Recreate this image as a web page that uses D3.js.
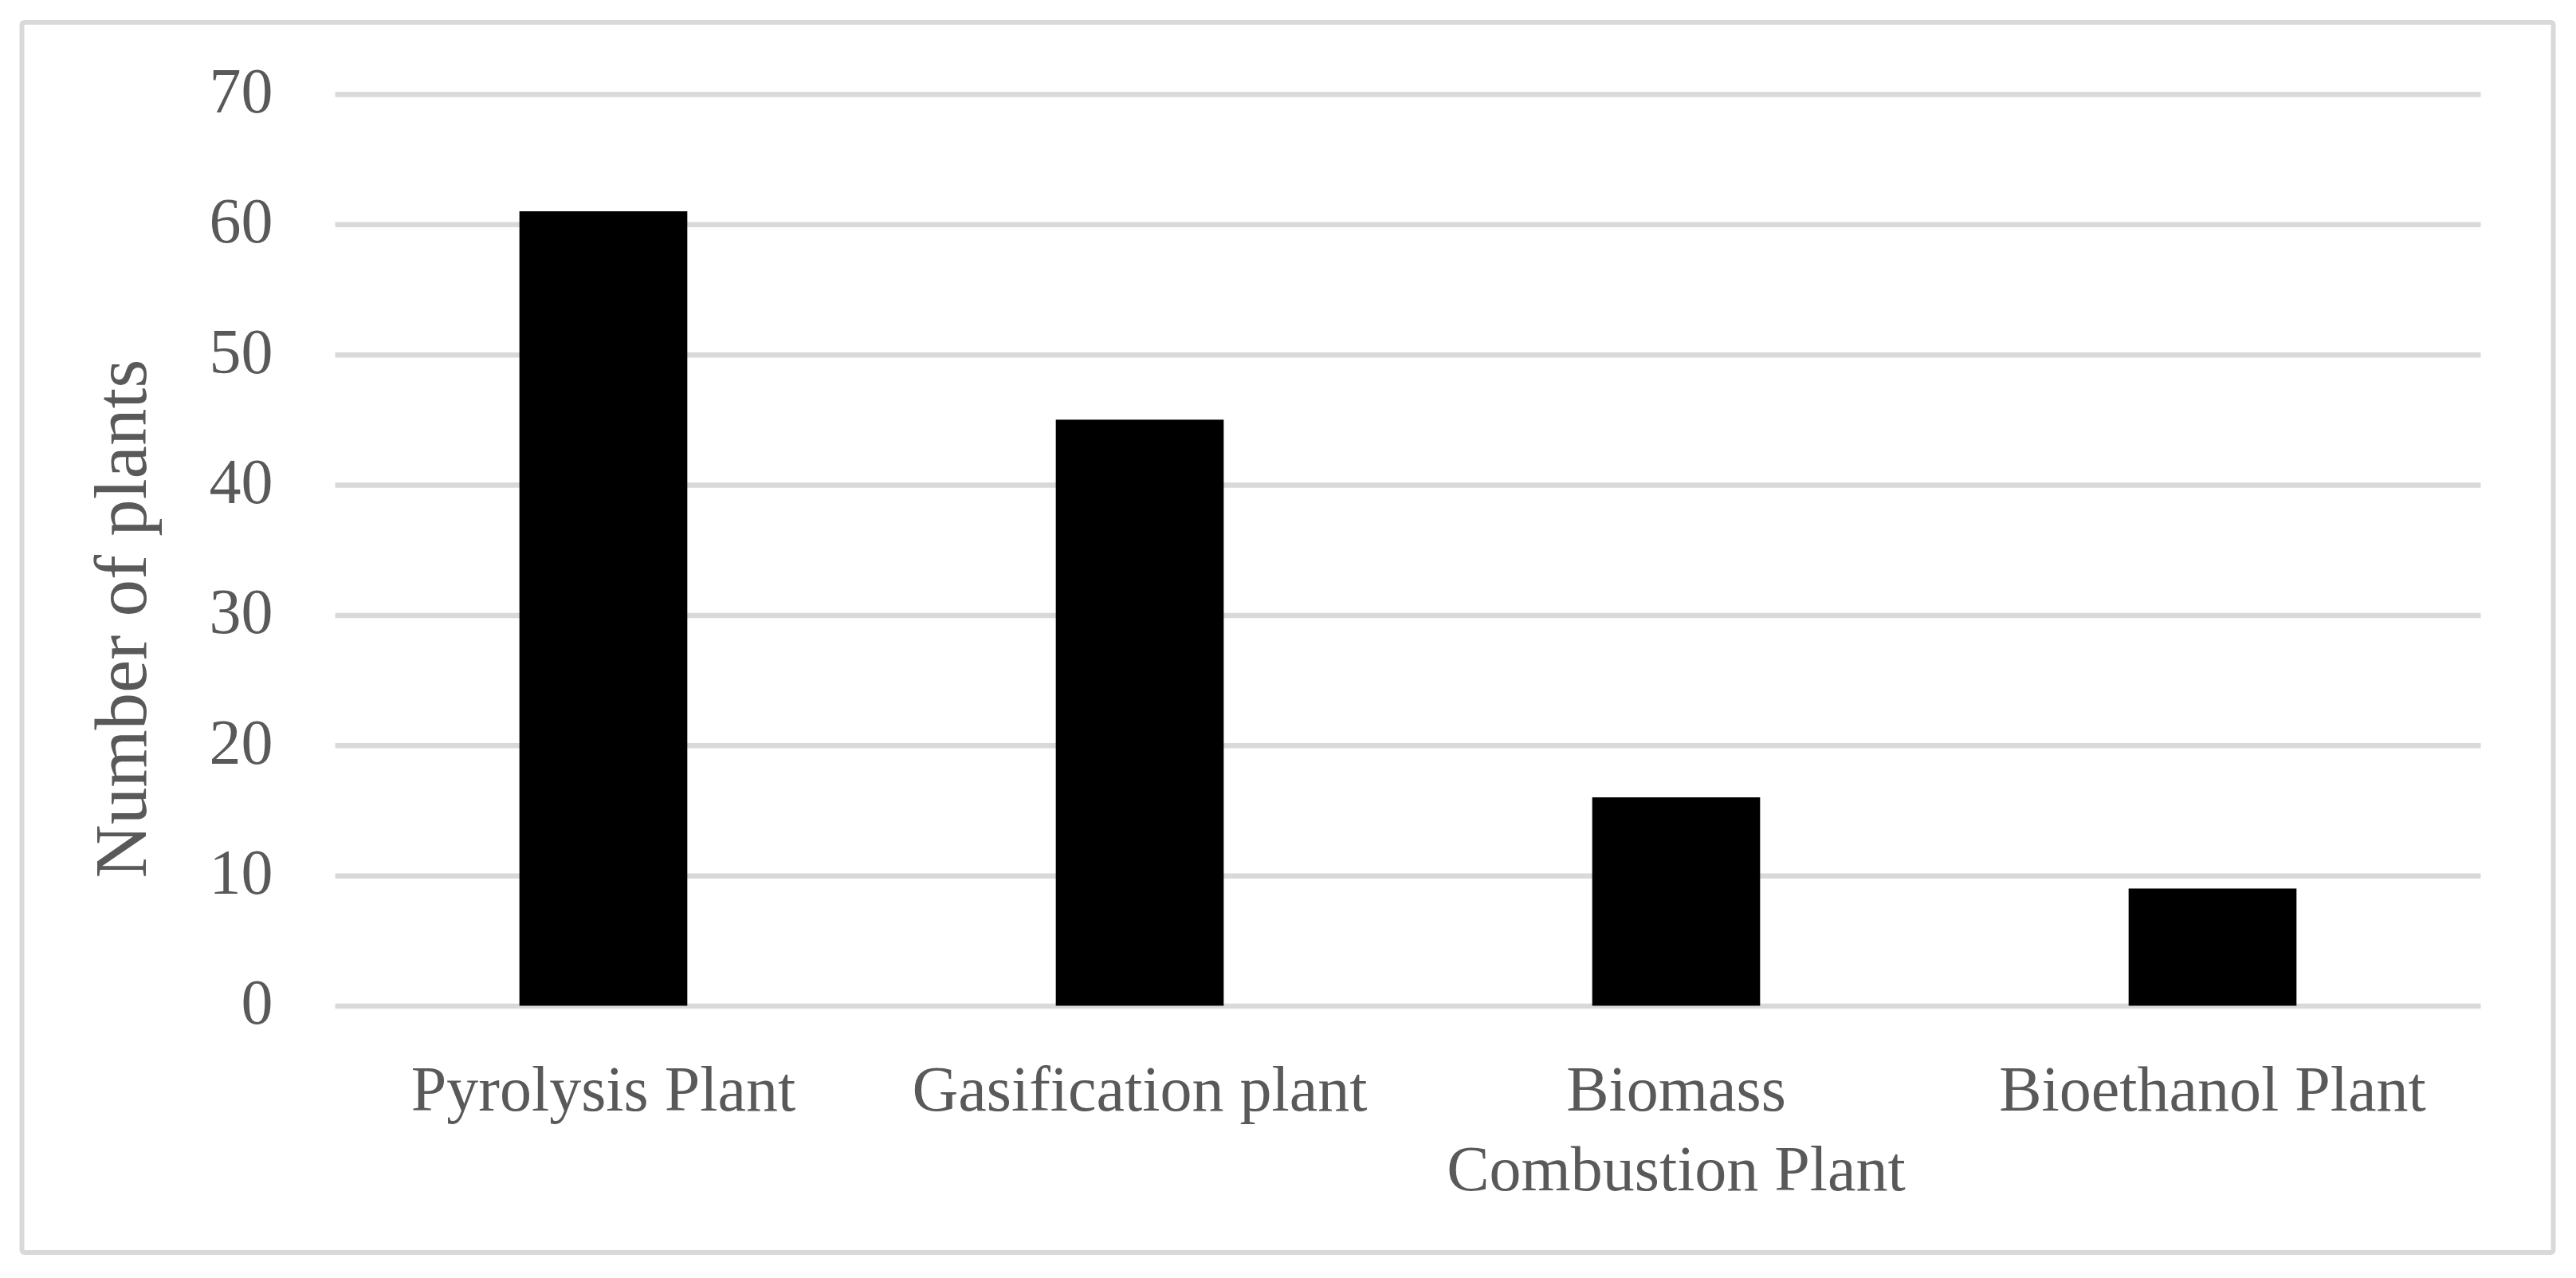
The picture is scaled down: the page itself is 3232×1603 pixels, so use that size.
<!DOCTYPE html>
<html>
<head>
<meta charset="utf-8">
<script src="https://cdn.jsdelivr.net/npm/d3@7"></script>
<style>
  body { margin: 0; background: #fff; }
  text { font-family: "Palatino Linotype", "Book Antiqua", Palatino, "Liberation Serif", serif; fill: #595959; }
</style>
</head>
<body>
<div id="chart"></div>
<script>
// chart data
let categories = ["Pyrolysis Plant", "Gasification plant", "Biomass Combustion Plant", "Bioethanol Plant"];
let plantCounts = [61, 45, 16, 9];
let yTicks = [0, 10, 20, 30, 40, 50, 60, 70];
let yTitle = "Number of plants";

let W = 3232, H = 1603;
let plot = {left: 420.5, right: 3112.5, top: 118, bottom: 1261.5};

let svg = d3.select("#chart").append("svg")
    .attr("width", W)
    .attr("height", H);

svg.append("rect")
    .attr("width", W).attr("height", H)
    .attr("fill", "#fff");

// outer frame
svg.append("rect")
    .attr("x", 27.5).attr("y", 28)
    .attr("width", 3176).attr("height", 1543)
    .attr("rx", 3)
    .attr("fill", "none")
    .attr("stroke", "#d9d9d9")
    .attr("stroke-width", 6);

let x = d3.scaleBand()
    .domain(categories)
    .range([plot.left, plot.right])
    .paddingInner(0.687)
    .paddingOuter(0.3435);

let y = d3.scaleLinear()
    .domain([0, 70])
    .range([plot.bottom, plot.top]);

// gridlines + tick labels
let yAxis = svg.append("g")
    .attr("transform", "translate(" + plot.left + ",0)")
    .call(d3.axisLeft(y).tickValues(yTicks).tickSize(-(plot.right - plot.left)).tickPadding(78));

yAxis.select(".domain").remove();
yAxis.selectAll(".tick line")
    .attr("stroke", "#d9d9d9")
    .attr("stroke-width", 6.5);
yAxis.selectAll(".tick text")
    .attr("font-size", 80)
    .attr("dy", "0.28em")
    .attr("fill", "#595959")
    .style("font-family", null);

// bars
svg.append("g").selectAll("rect")
    .data(categories)
    .enter()
    .append("rect")
    .attr("x", d => x(d))
    .attr("width", x.bandwidth())
    .attr("y", (d, i) => y(plantCounts[i]))
    .attr("height", (d, i) => y(0) - y(plantCounts[i]))
    .attr("fill", "#000");

// category labels, wrapped to the band width
let step = x.step();
let labels = svg.append("g").selectAll("text")
    .data(categories)
    .enter()
    .append("text")
    .attr("text-anchor", "middle")
    .attr("font-size", 80)
    .attr("y", 1393)
    .attr("x", d => x(d) + x.bandwidth() / 2);

labels.each(function(d) {
    let t = d3.select(this);
    let cx = x(d) + x.bandwidth() / 2;
    let words = d.split(" ");
    let lines = [];
    let line = [];
    let probe = t.append("tspan");
    words.forEach(w => {
        line.push(w);
        probe.text(line.join(" "));
        if (probe.node().getComputedTextLength() > step && line.length > 1) {
            line.pop();
            lines.push(line.join(" "));
            line = [w];
        }
    });
    lines.push(line.join(" "));
    probe.remove();
    lines.forEach((l, i) => {
        t.append("tspan")
            .attr("x", cx)
            .attr("dy", i === 0 ? 0 : 100)
            .text(l);
    });
});

// y axis title
svg.append("text")
    .attr("transform", "translate(183,776) rotate(-90)")
    .attr("text-anchor", "middle")
    .attr("font-size", 93)
    .text(yTitle);
</script>
</body>
</html>
